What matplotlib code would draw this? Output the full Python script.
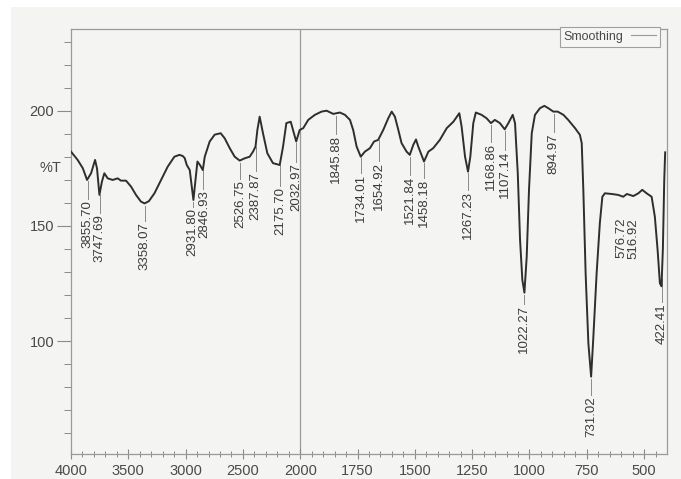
import numpy as np
import matplotlib
matplotlib.use("Agg")
import matplotlib.pyplot as plt
from matplotlib.patches import Rectangle
from matplotlib.ticker import FixedLocator

# FTIR spectrum (wavenumber in cm-1, transmittance %T)
wavenumber = [
    4000, 3942, 3897, 3860, 3825, 3790, 3773, 3752, 3730, 3709, 3680, 3636,
    3593, 3564, 3520, 3476, 3433, 3390, 3358, 3320, 3272, 3214, 3156, 3098,
    3054, 3025, 3008, 2990, 2964, 2932, 2910, 2897, 2875, 2850, 2833, 2790,
    2746, 2694, 2659, 2615, 2572, 2528, 2485, 2441, 2412, 2390, 2374, 2354,
    2325, 2287, 2238, 2179, 2150, 2121, 2083, 2063, 2035, 2005, 1987, 1965,
    1936, 1907, 1885, 1856, 1827, 1805, 1783, 1769, 1754, 1736, 1718, 1696,
    1678, 1660, 1638, 1616, 1601, 1587, 1572, 1558, 1536, 1522, 1507, 1495,
    1485, 1460, 1441, 1420, 1391, 1361, 1332, 1306, 1296, 1281, 1268, 1258,
    1245, 1234, 1209, 1187, 1168, 1151, 1129, 1108, 1092, 1073, 1063, 1051,
    1041, 1031, 1022, 1012, 1002, 990, 976, 954, 935, 918, 896, 877, 852,
    831, 801, 780, 772, 765, 755, 743, 731, 722, 707, 693, 682, 671, 641,
    613, 591, 575, 547, 525, 508, 489, 467, 453, 441, 431, 424, 418, 412, 408,
]
transmittance = [
    182.3, 178.7, 175.1, 170.0, 172.9, 178.7, 175.0, 163.5, 169.3, 172.9, 170.7, 170.0,
    170.7, 169.7, 169.7, 167.1, 163.5, 160.6, 159.8, 160.8, 164.2, 170.0, 175.8, 180.1,
    180.9, 180.4, 179.5, 176.5, 174.3, 161.3, 172.0, 178.0, 176.5, 174.3, 180.1, 186.7,
    189.7, 190.3, 188.1, 183.8, 180.1, 178.4, 179.4, 180.1, 182.3, 184.5, 191.7, 197.5,
    190.3, 181.6, 177.3, 176.5, 184.5, 194.7, 195.3, 191.7, 186.7, 191.7, 192.5, 196.1,
    198.3, 199.7, 200.1, 198.7, 199.3, 198.3, 196.1, 191.7, 184.5, 180.1, 182.3, 183.8,
    186.7, 187.4, 191.7, 196.8, 199.7, 197.5, 191.7, 186.0, 182.3, 180.9, 185.2, 187.6,
    184.5, 178.0, 182.3, 183.8, 187.4, 192.5, 195.3, 199.0, 193.2, 180.1, 173.6, 180.1,
    194.7, 199.3, 198.3, 196.8, 194.7, 196.1, 194.7, 192.0, 194.7, 198.3, 194.7, 172.9,
    143.9, 126.5, 121.0, 136.7, 165.7, 190.3, 198.3, 201.2, 202.2, 201.2, 199.7, 199.7, 198.3,
    196.1, 192.5, 189.6, 186.0, 165.7, 129.4, 99.0, 84.5, 100.4, 129.4, 151.2, 162.7, 164.2, 163.9,
    163.5, 162.7, 163.9, 163.0, 164.2, 165.7, 164.2, 162.7, 154.0, 139.6, 125.1, 123.8, 140.0, 170.0, 182.0,
]

# Picked peaks
peak_names = ["3855.70", "3747.69", "3358.07", "2931.80", "2846.93", "2526.75",
              "2387.87", "2175.70", "2032.97", "1845.88", "1734.01", "1654.92",
              "1521.84", "1458.18", "1267.23", "1168.86", "1107.14", "1022.27",
              "894.97", "731.02", "576.72", "516.92", "422.41"]
peak_wn = [float(p) for p in peak_names]

# Vertical anchor (%T) of the top of each rotated peak label
label_top = [161.3, 155.2, 151.7, 157.8, 165.7, 170.0, 173.5, 167.0, 177.4, 189.6,
             172.6, 177.8, 171.7, 170.4, 165.2, 186.1, 182.6, 115.6, 190.4, 76.0,
             153.5, 153.5, 116.5]
# Horizontal nudges (cm-1) where crowded labels are pushed apart
label_shift = {"576.72": 20.0, "516.92": 28.0, "2931.80": 8.0, "2846.93": -8.0}
no_leader = {"576.72", "516.92"}

x_major = [4000, 3500, 3000, 2500, 2000, 1750, 1500, 1250, 1000, 750, 500]
x_minor = list(range(3900, 2000, -100)) + list(range(1950, 400, -50))
y_major = [100, 150, 200]
y_minor = list(range(60, 240, 10))


def fwd(w):
    w = np.asarray(w, dtype=float)
    return np.where(w >= 2000, (w - 2000) / 500.0, (w - 2000) / 250.0)


def inv(u):
    u = np.asarray(u, dtype=float)
    return np.where(u >= 0, 2000 + u * 500.0, 2000 + u * 250.0)


W, H = 681, 479
fig = plt.figure(figsize=(W / 100, H / 100), dpi=100)
fig.patch.set_facecolor("white")
fig.add_artist(Rectangle((11 / W, 0), 1 - 11 / W, 1 - 7 / H, transform=fig.transFigure,
                         facecolor="#f4f5f2", edgecolor="none", zorder=-10))

ax = fig.add_axes([71 / W, 25 / H, (667 - 71) / W, (454 - 29) / H])
ax.set_facecolor("none")
ax.set_xscale("function", functions=(fwd, inv))
ax.set_xlim(4000, 400)
ax.set_ylim(50.9, 235.6)

line_col = "#2e2e2e"
ax.plot(wavenumber, transmittance, color=line_col, lw=1.4, label="Smoothing", zorder=3)
ax.axvline(2000, color="#9a9a9a", lw=0.9, zorder=1)

sans = ["Liberation Sans", "DejaVu Sans"]

ax.xaxis.set_major_locator(FixedLocator(x_major))
ax.xaxis.set_minor_locator(FixedLocator(x_minor))
ax.yaxis.set_major_locator(FixedLocator(y_major))
ax.yaxis.set_minor_locator(FixedLocator(y_minor))
ax.set_xticklabels([str(v) for v in x_major])
ax.set_yticklabels([str(v) for v in y_major])

ax.tick_params(axis="x", which="major", direction="inout", length=7, width=0.8,
               colors="#8a8a8a", labelcolor="#4a4a4a", pad=4, labelsize=10.5)
ax.tick_params(axis="x", which="minor", direction="inout", length=5, width=0.7, colors="#8a8a8a")
ax.tick_params(axis="y", which="major", direction="out", length=10, width=0.8,
               colors="#8a8a8a", labelcolor="#4a4a4a", pad=2, labelsize=10.5)
ax.tick_params(axis="y", which="minor", direction="out", length=5, width=0.7, colors="#8a8a8a")
for lab in ax.get_xticklabels() + ax.get_yticklabels():
    lab.set_family(sans)

for s in ax.spines.values():
    s.set_color("#9a9a9a")
    s.set_linewidth(0.9)

fig.text(50 / W, 1 - 168 / H, "%T", ha="center", va="center", fontsize=10.5,
         family=sans, color="#4a4a4a")

# Peak labels with short leader lines
for name, wn, ytop in zip(peak_names, peak_wn, label_top):
    curve_t = np.interp(wn, wavenumber[::-1], transmittance[::-1])
    tx = wn + label_shift.get(name, 0.0)
    if name not in no_leader:
        ax.plot([wn, wn], [curve_t - 1.0, ytop + 0.5], color="#8a8a8a", lw=0.7, zorder=2)
    ax.text(tx, ytop, name, rotation=90, ha="center", va="top", fontsize=9.5,
            family=sans, color="#3a3a3a")

leg = ax.legend(loc="upper right", bbox_to_anchor=(660 / W, 1 - 27 / H),
                bbox_transform=fig.transFigure, borderaxespad=0, markerfirst=False,
                handlelength=2.0, handletextpad=0.6, borderpad=0.3, fancybox=False,
                framealpha=1, facecolor="#f6f7f4", edgecolor="#a0a0a0",
                prop={"family": sans, "size": 9})
for t in leg.get_texts():
    t.set_color("#4a4a4a")
for l in leg.get_lines():
    l.set_color("#9a9a9a")
    l.set_linewidth(0.8)
leg.get_frame().set_linewidth(0.8)

fig.savefig("out.png", dpi=100)
